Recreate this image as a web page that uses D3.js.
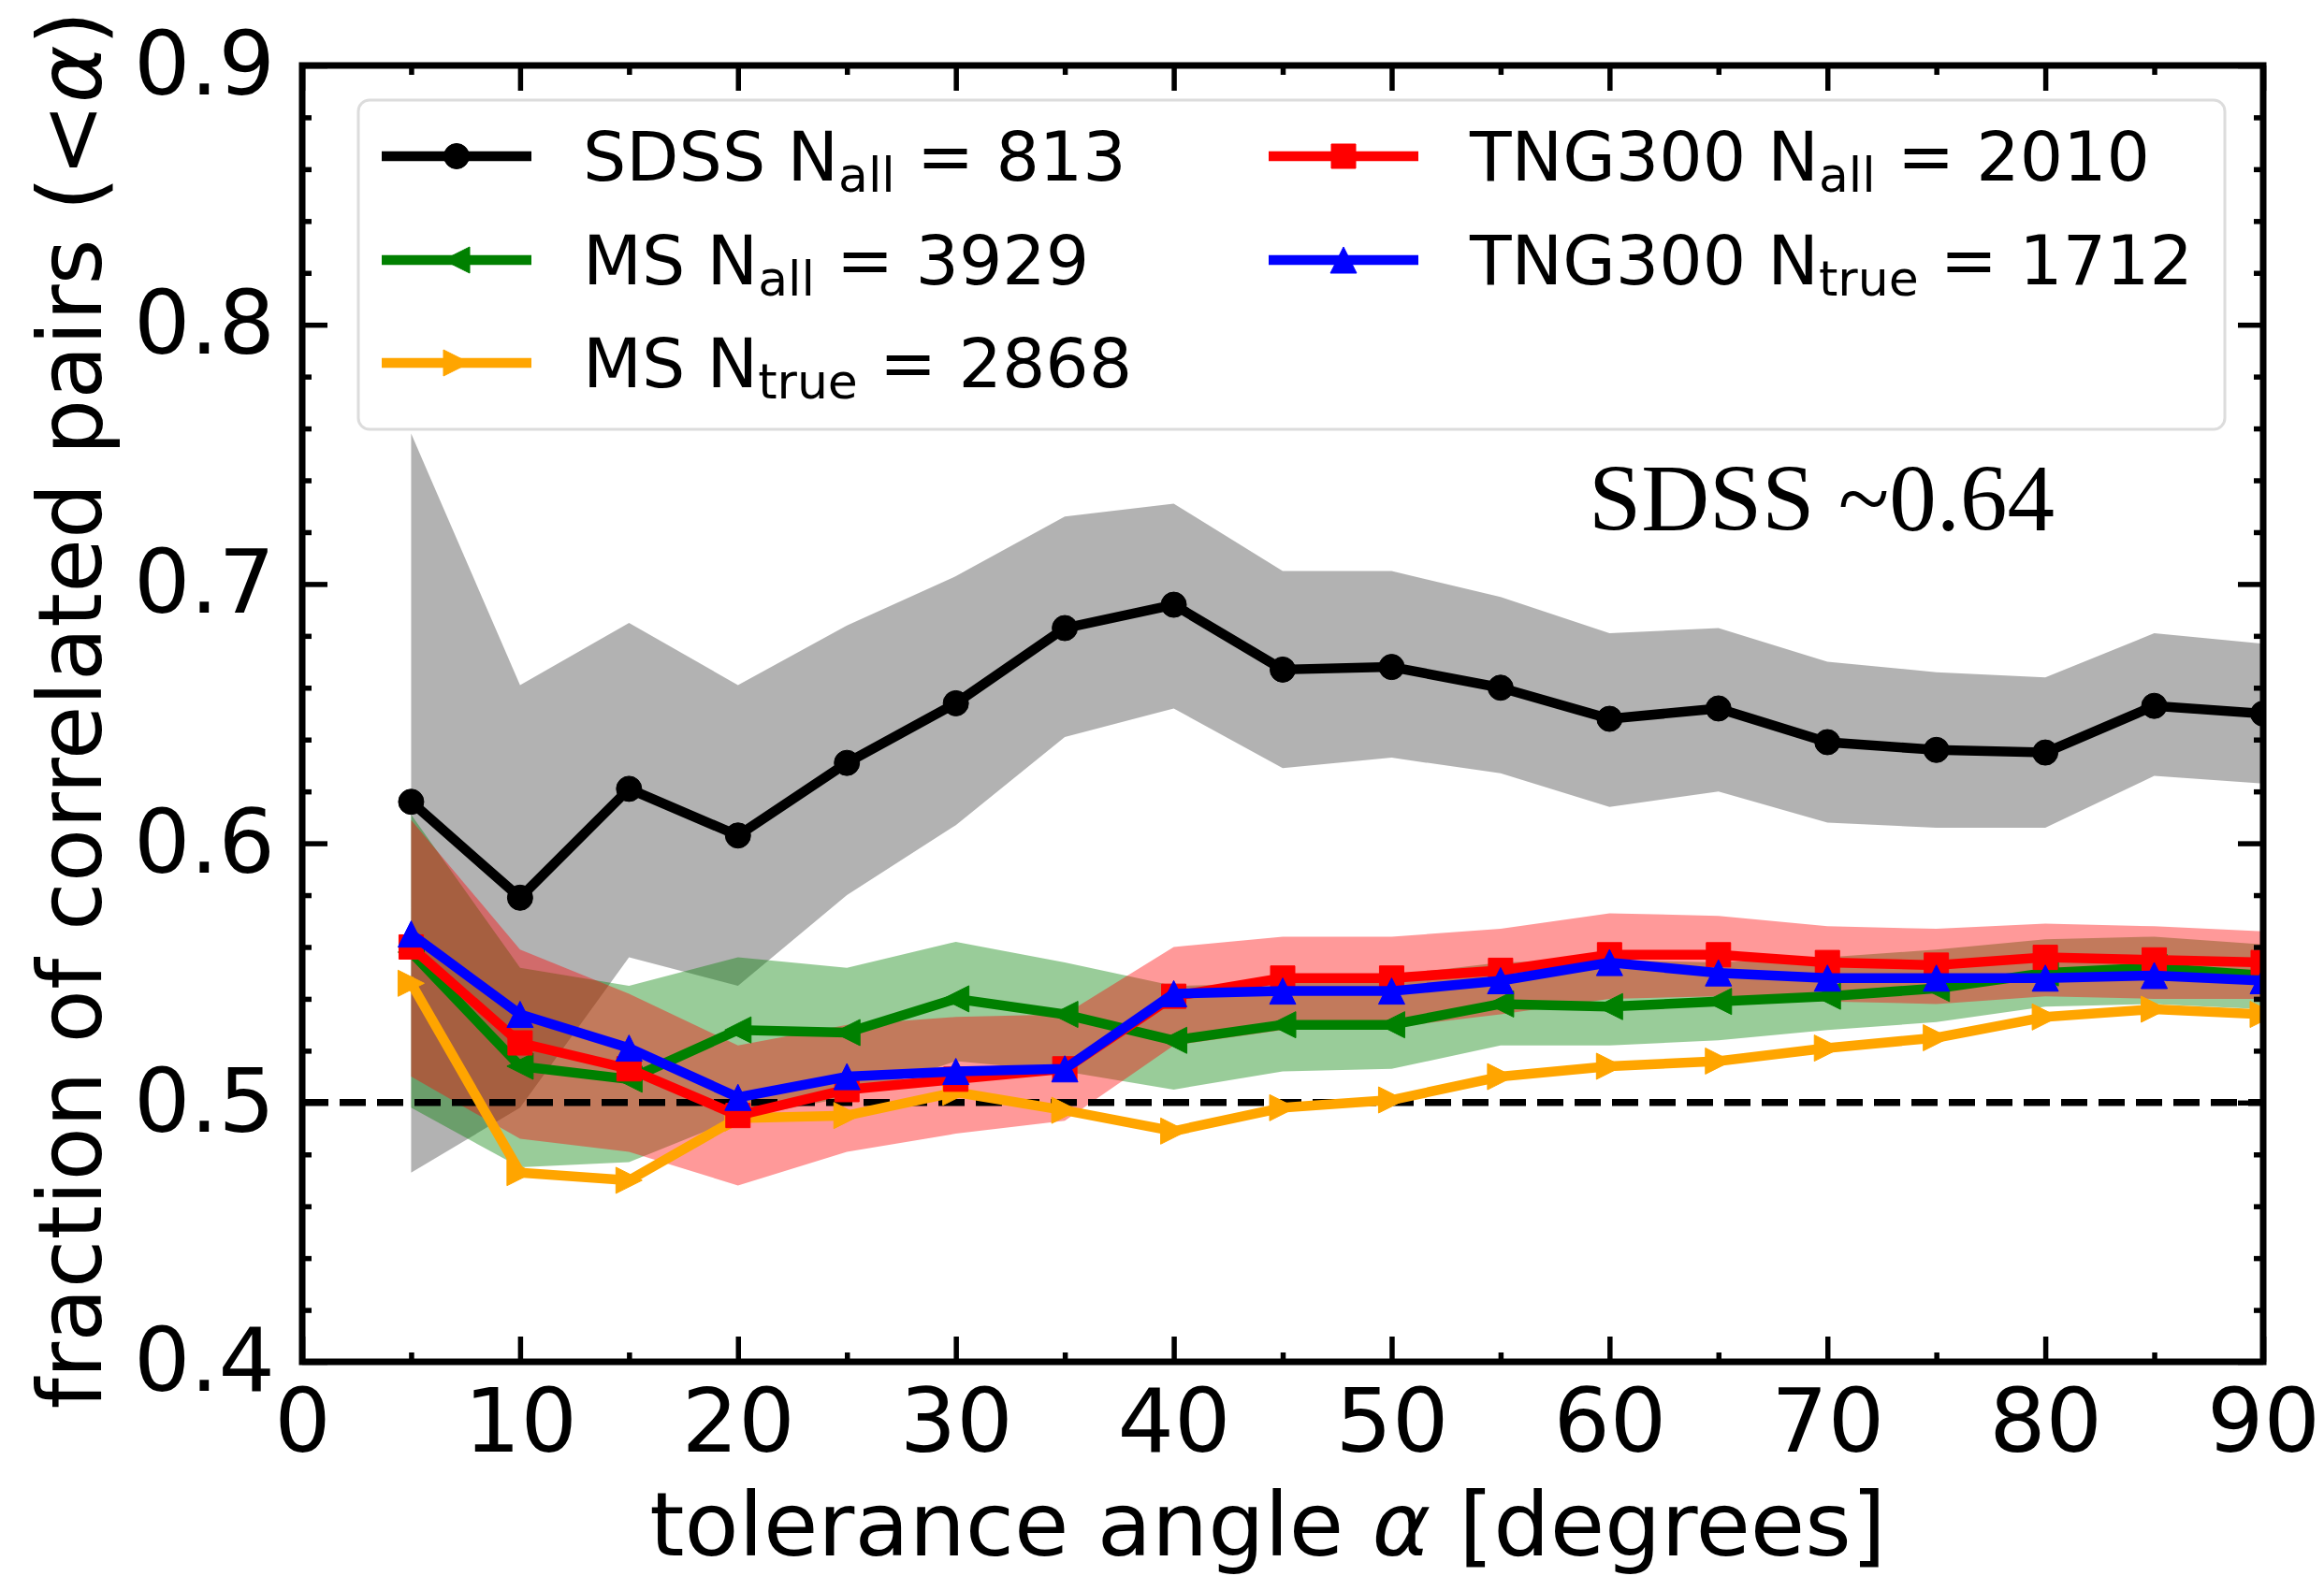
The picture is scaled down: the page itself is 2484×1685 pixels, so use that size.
<!DOCTYPE html>
<html>
<head>
<meta charset="utf-8">
<script src="https://cdn.jsdelivr.net/npm/d3@7"></script>
<style>
  html, body { margin: 0; padding: 0; background: #fff; }
  svg { display: block; }
  text { font-family: "DejaVu Sans", sans-serif; fill: #000; }
</style>
</head>
<body>
<svg id="chart" width="2484" height="1685"></svg>
<script>
// Tolerance angles (degrees)
const angles = [5, 10, 15, 20, 25, 30, 35, 40, 45, 50, 55, 60, 65, 70, 75, 80, 85, 90];

// SDSS observed fraction with its uncertainty band
const sdss   = [0.616, 0.579, 0.621, 0.603, 0.631, 0.654, 0.683, 0.692, 0.667, 0.668, 0.660, 0.648, 0.652, 0.639, 0.636, 0.635, 0.653, 0.650];
const sdssHi = [0.758, 0.661, 0.685, 0.661, 0.684, 0.703, 0.726, 0.731, 0.705, 0.705, 0.695, 0.681, 0.683, 0.670, 0.666, 0.664, 0.681, 0.677];
const sdssLo = [0.473, 0.498, 0.556, 0.545, 0.580, 0.607, 0.641, 0.652, 0.629, 0.633, 0.627, 0.614, 0.620, 0.608, 0.606, 0.606, 0.626, 0.623];

// Millennium Simulation, all pairs, with band
const msAll   = [0.558, 0.514, 0.509, 0.528, 0.527, 0.540, 0.534, 0.524, 0.530, 0.530, 0.538, 0.537, 0.539, 0.541, 0.544, 0.550, 0.552, 0.549];
const msAllHi = [0.611, 0.552, 0.545, 0.556, 0.552, 0.562, 0.554, 0.545, 0.546, 0.549, 0.554, 0.555, 0.554, 0.556, 0.559, 0.563, 0.564, 0.561];
const msAllLo = [0.498, 0.475, 0.477, 0.494, 0.502, 0.516, 0.512, 0.505, 0.512, 0.513, 0.522, 0.522, 0.524, 0.528, 0.531, 0.537, 0.538, 0.536];

// Millennium Simulation, true pairs
const msTrue = [0.546, 0.473, 0.470, 0.494, 0.495, 0.504, 0.497, 0.489, 0.498, 0.501, 0.510, 0.514, 0.516, 0.521, 0.525, 0.533, 0.536, 0.534];

// TNG300, all pairs, with band
const tngAll   = [0.560, 0.523, 0.513, 0.495, 0.505, 0.509, 0.513, 0.541, 0.548, 0.548, 0.551, 0.557, 0.557, 0.554, 0.553, 0.556, 0.555, 0.554];
const tngAllHi = [0.609, 0.559, 0.542, 0.522, 0.530, 0.533, 0.534, 0.560, 0.564, 0.564, 0.567, 0.573, 0.572, 0.568, 0.567, 0.569, 0.568, 0.566];
const tngAllLo = [0.510, 0.486, 0.481, 0.468, 0.481, 0.488, 0.493, 0.522, 0.528, 0.529, 0.534, 0.540, 0.541, 0.539, 0.538, 0.541, 0.540, 0.540];

// TNG300, true pairs
const tngTrue = [0.565, 0.534, 0.521, 0.502, 0.510, 0.512, 0.513, 0.542, 0.543, 0.543, 0.547, 0.554, 0.550, 0.548, 0.548, 0.548, 0.549, 0.547];

// Axis ticks
const xMajor = [0, 10, 20, 30, 40, 50, 60, 70, 80, 90];
const xMinor = [5, 15, 25, 35, 45, 55, 65, 75, 85];
const yMajor = [0.4, 0.5, 0.6, 0.7, 0.8, 0.9];
const yMinor = [0.42, 0.44, 0.46, 0.48, 0.52, 0.54, 0.56, 0.58, 0.62, 0.64, 0.66, 0.68, 0.72, 0.74, 0.76, 0.78, 0.82, 0.84, 0.86, 0.88];

// Legend entries: label prefix, subscript, count
const legendNames = ["SDSS", "MS", "MS", "TNG300", "TNG300"];
const legendSubs  = ["all", "all", "true", "all", "true"];
const legendCounts = [813, 3929, 2868, 2010, 1712];

const baseline = 0.5;
const noteText = "SDSS ~0.64";

// ---------------------------------------------------------------
const svg = d3.select("#chart");
const frame = { left: 323, right: 2419, top: 70, bottom: 1456 };

const x = d3.scaleLinear().domain([0, 90]).range([frame.left, frame.right]);
const y = d3.scaleLinear().domain([0.4, 0.9]).range([frame.bottom, frame.top]);

svg.append("rect").attr("width", 2484).attr("height", 1685).attr("fill", "#fff");

svg.append("defs").append("clipPath").attr("id", "plotclip")
  .append("rect")
  .attr("x", frame.left).attr("y", frame.top)
  .attr("width", frame.right - frame.left).attr("height", frame.bottom - frame.top);

const plot = svg.append("g").attr("clip-path", "url(#plotclip)");

// Uncertainty bands, drawn underneath the curves
const bands = [
  { hi: sdssHi,   lo: sdssLo,   fill: "rgba(0,0,0,0.3)" },
  { hi: msAllHi,  lo: msAllLo,  fill: "rgba(0,128,0,0.4)" },
  { hi: tngAllHi, lo: tngAllLo, fill: "rgba(255,0,0,0.4)" }
];
bands.forEach(b => {
  const area = d3.area()
    .x((d, i) => x(angles[i]))
    .y0((d, i) => y(b.lo[i]))
    .y1((d, i) => y(b.hi[i]));
  plot.append("path").attr("d", area(b.hi)).attr("fill", b.fill).attr("stroke", "none");
});

// Reference level at 0.5
plot.append("line")
  .attr("x1", x(0)).attr("x2", x(90))
  .attr("y1", y(baseline)).attr("y2", y(baseline))
  .attr("stroke", "#000").attr("stroke-width", 7.5)
  .attr("stroke-dasharray", "28,12");

// Marker shapes (bounding box of side s, centred on the point)
function markerPath(kind, s) {
  const h = s / 2;
  switch (kind) {
    case "circle": return `M${-h},0A${h},${h} 0 1,0 ${h},0A${h},${h} 0 1,0 ${-h},0Z`;
    case "square": return `M${-h},${-h}H${h}V${h}H${-h}Z`;
    case "up":     return `M0,${-h}L${h},${h}L${-h},${h}Z`;
    case "left":   return `M${-h},0L${h},${-h}L${h},${h}Z`;
    case "right":  return `M${h},0L${-h},${-h}L${-h},${h}Z`;
  }
}

const series = [
  { values: sdss,    color: "#000000", marker: "circle", size: 27 },
  { values: msAll,   color: "#008000", marker: "left",   size: 28 },
  { values: msTrue,  color: "#FFA500", marker: "right",  size: 28 },
  { values: tngAll,  color: "#FF0000", marker: "square", size: 26 },
  { values: tngTrue, color: "#0000FF", marker: "up",     size: 28 }
];

const line = d3.line().x((d, i) => x(angles[i])).y(d => y(d));
series.forEach(s => {
  const g = plot.append("g");
  g.append("path").attr("d", line(s.values))
    .attr("fill", "none").attr("stroke", s.color)
    .attr("stroke-width", 10.5).attr("stroke-linejoin", "round").attr("stroke-linecap", "square");
  g.selectAll("path.mk").data(s.values).join("path")
    .attr("class", "mk")
    .attr("d", markerPath(s.marker, s.size))
    .attr("transform", (d, i) => `translate(${x(angles[i])},${y(d)})`)
    .attr("fill", s.color).attr("stroke", s.color).attr("stroke-width", 1);
});

// Axes: ticks point inward on all four sides
const tickW = 5.5, majorLen = 27, minorLen = 10, pad = 29, fs = 95;

function styleAxis(g) {
  g.select(".domain").remove();
  g.selectAll(".tick line").attr("stroke", "#000").attr("stroke-width", tickW);
  g.selectAll(".tick text").attr("font-size", fs).attr("font-family", "DejaVu Sans").attr("fill", "#000");
}

svg.append("g").attr("transform", `translate(0,${frame.bottom})`)
  .call(d3.axisBottom(x).tickValues(xMajor).tickSize(-majorLen).tickPadding(pad).tickFormat(d3.format("d")))
  .call(styleAxis);
svg.append("g").attr("transform", `translate(0,${frame.bottom})`)
  .call(d3.axisBottom(x).tickValues(xMinor).tickSize(-minorLen).tickFormat(""))
  .call(styleAxis);
svg.append("g").attr("transform", `translate(0,${frame.top})`)
  .call(d3.axisTop(x).tickValues(xMajor).tickSize(-majorLen).tickFormat(""))
  .call(styleAxis);
svg.append("g").attr("transform", `translate(0,${frame.top})`)
  .call(d3.axisTop(x).tickValues(xMinor).tickSize(-minorLen).tickFormat(""))
  .call(styleAxis);

svg.append("g").attr("transform", `translate(${frame.left},0)`)
  .call(d3.axisLeft(y).tickValues(yMajor).tickSize(-majorLen).tickPadding(pad).tickFormat(d3.format(".1f")))
  .call(styleAxis);
svg.append("g").attr("transform", `translate(${frame.left},0)`)
  .call(d3.axisLeft(y).tickValues(yMinor).tickSize(-minorLen).tickFormat(""))
  .call(styleAxis);
svg.append("g").attr("transform", `translate(${frame.right},0)`)
  .call(d3.axisRight(y).tickValues(yMajor).tickSize(-majorLen).tickFormat(""))
  .call(styleAxis);
svg.append("g").attr("transform", `translate(${frame.right},0)`)
  .call(d3.axisRight(y).tickValues(yMinor).tickSize(-minorLen).tickFormat(""))
  .call(styleAxis);

// Frame
svg.append("rect")
  .attr("x", frame.left).attr("y", frame.top)
  .attr("width", frame.right - frame.left).attr("height", frame.bottom - frame.top)
  .attr("fill", "none").attr("stroke", "#000").attr("stroke-width", 7);

// Axis titles
const xt = svg.append("text")
  .attr("x", (frame.left + frame.right) / 2 - 16).attr("y", 1663)
  .attr("text-anchor", "middle").attr("font-size", 95);
xt.append("tspan").text("tolerance angle ");
xt.append("tspan").attr("font-style", "italic").text("α");
xt.append("tspan").text(" [degrees]");

const yt = svg.append("text")
  .attr("transform", `translate(108,${(frame.top + frame.bottom) / 2 - 4}) rotate(-90)`)
  .attr("text-anchor", "middle").attr("font-size", 94);
yt.append("tspan").text("fraction of correlated pairs (<");
yt.append("tspan").attr("font-style", "italic").text("α");
yt.append("tspan").text(")");

// Legend
const lg = svg.append("g");
lg.append("rect")
  .attr("x", 383).attr("y", 107).attr("width", 1995).attr("height", 352)
  .attr("rx", 12).attr("ry", 12)
  .attr("fill", "rgba(255,255,255,0.8)").attr("stroke", "#dcdcdc").attr("stroke-width", 3);

const colX = [408, 1356];
const rowY = [167, 278, 388];
const lfs = 73, subFs = 52, subDy = 12;
series.forEach((s, k) => {
  const col = k < 3 ? 0 : 1;
  const row = k < 3 ? k : k - 3;
  const x0 = colX[col], yy = rowY[row];
  const g = lg.append("g");
  g.append("line").attr("x1", x0).attr("x2", x0 + 160).attr("y1", yy).attr("y2", yy)
    .attr("stroke", s.color).attr("stroke-width", 10.5);
  g.append("path").attr("d", markerPath(s.marker, s.size))
    .attr("transform", `translate(${x0 + 80},${yy})`)
    .attr("fill", s.color).attr("stroke", s.color).attr("stroke-width", 1);
  const t = g.append("text").attr("x", x0 + 215).attr("y", yy + 26).attr("font-size", lfs);
  t.append("tspan").text(legendNames[k] + " N");
  t.append("tspan").attr("font-size", subFs).attr("dy", subDy).text(legendSubs[k]);
  t.append("tspan").attr("dy", -subDy).text(" = " + legendCounts[k]);
});

// Annotation
svg.append("text")
  .attr("x", 1698).attr("y", 567)
  .style("font-family", "'Liberation Serif', serif")
  .attr("font-size", 101)
  .text(noteText);
</script>
</body>
</html>
